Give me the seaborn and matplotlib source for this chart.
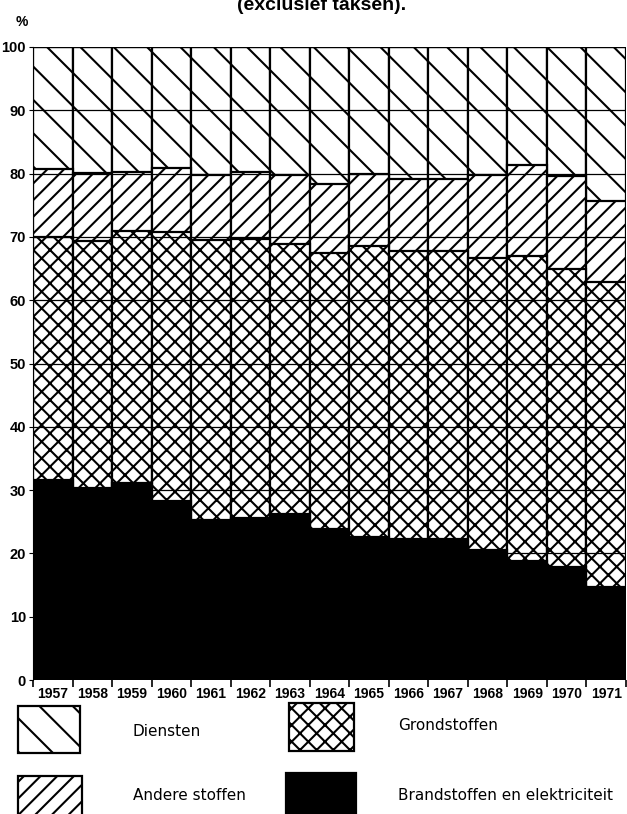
import pandas as pd
import seaborn as sns
import matplotlib.pyplot as plt
from matplotlib.patches import Rectangle

# --- data (aandelen in %) ---
jaren = ['1957', '1958', '1959', '1960', '1961', '1962', '1963', '1964',
         '1965', '1966', '1967', '1968', '1969', '1970', '1971']
brandstoffen = [31.6, 30.3, 31.1, 28.3, 25.3, 25.6, 26.2, 23.9,
                22.6, 22.3, 22.2, 20.5, 18.8, 17.9, 14.7]
grondstoffen = [38.4, 39.1, 39.9, 42.5, 44.2, 44.1, 42.6, 43.6,
                45.9, 45.4, 45.5, 46.1, 48.2, 47.1, 48.1]
andere_stoffen = [10.8, 10.7, 9.3, 10.1, 10.2, 10.6, 11.0, 10.9,
                  11.5, 11.4, 11.5, 13.2, 14.3, 14.6, 12.8]
diensten = [19.2, 19.9, 19.7, 19.1, 20.3, 19.7, 20.2, 21.6,
            20.0, 20.9, 20.8, 20.2, 18.7, 20.4, 24.4]

df = pd.DataFrame({'jaar': jaren, 'brand': brandstoffen, 'grond': grondstoffen,
                   'andere': andere_stoffen, 'diensten': diensten})
# cumulatieve toppen voor het stapelen
df['t_brand'] = df['brand']
df['t_grond'] = df['t_brand'] + df['grond']
df['t_andere'] = df['t_grond'] + df['andere']
df['t_diensten'] = df['t_andere'] + df['diensten']

sns.set_style('white')
plt.rcParams['hatch.linewidth'] = 1.5
plt.rcParams['hatch.color'] = 'black'
plt.rcParams['font.family'] = ['Liberation Sans', 'DejaVu Sans']

fig = plt.figure(figsize=(6.27, 8.14), dpi=100)
ax = fig.add_axes([33 / 627, 1 - 680 / 814, 593 / 627, 633 / 814])

lagen = [('t_diensten', '\\', 'white'),
         ('t_andere', '//', 'white'),
         ('t_grond', 'xx', 'white'),
         ('t_brand', None, 'black')]
for kol, hatch, kleur in lagen:
    sns.barplot(data=df, x='jaar', y=kol, color=kleur, saturation=1, width=1,
                edgecolor='black', linewidth=1.6, hatch=hatch, errorbar=None, ax=ax)

ax.set_xlim(-0.5, len(jaren) - 0.5)
ax.set_ylim(0, 100)
ax.set_yticks(range(0, 101, 10))
ax.yaxis.grid(True, color='black', linewidth=0.9)
ax.set_axisbelow(False)
ax.set_xlabel('')
ax.set_ylabel('')

for s in ['top', 'right', 'bottom']:
    ax.spines[s].set_visible(False)
ax.spines['left'].set_linewidth(0.8)
ax.spines['left'].set_color('black')

ax.set_xticks(range(len(jaren)))
ax.set_xticklabels(jaren)
ax.set_xticks([i - 0.5 for i in range(len(jaren) + 1)], minor=True)
ax.tick_params(axis='x', which='major', length=0, pad=5)
ax.tick_params(axis='x', which='minor', length=5, width=1.2, direction='out', color='black', bottom=True)
ax.tick_params(axis='y', length=3, width=0.8, direction='out', color='black', left=True, pad=2)
for lab in ax.get_xticklabels():
    lab.set_fontweight('bold')
    lab.set_fontsize(10)
    lab.set_color('black')
for lab in ax.get_yticklabels():
    lab.set_fontweight('bold')
    lab.set_fontsize(10.5)
    lab.set_color('black')

# titel (bovenaan afgesneden) en eenheid
fig.text(322 / 627, 1 - 10 / 814, '(exclusief taksen).', ha='center', va='baseline',
         fontsize=14, fontweight='bold', color='black')
fig.text(22 / 627, 1 - 22 / 814, '%', ha='center', va='center',
         fontsize=10, fontweight='bold', color='black')

# legende
legende = [((18, 706, 62, 47), '\\', 'white', 'Diensten', (133, 731)),
           ((289, 703, 65, 48), 'xx', 'white', 'Grondstoffen', (398, 726)),
           ((18, 776, 64, 50), '//', 'white', 'Andere stoffen', (133, 795)),
           ((286, 773, 70, 50), None, 'black', 'Brandstoffen en elektriciteit', (398, 795))]
for (x0, y0, w, h), hatch, kleur, tekst, (tx, ty) in legende:
    fig.add_artist(Rectangle((x0 / 627, 1 - (y0 + h) / 814), w / 627, h / 814,
                             transform=fig.transFigure, facecolor=kleur, edgecolor='black',
                             linewidth=1.6, hatch=hatch))
    fig.text(tx / 627, 1 - ty / 814, tekst, ha='left', va='center', fontsize=11,
             family=['DejaVu Sans'], color='black')

fig.savefig('out.png', dpi=100)
